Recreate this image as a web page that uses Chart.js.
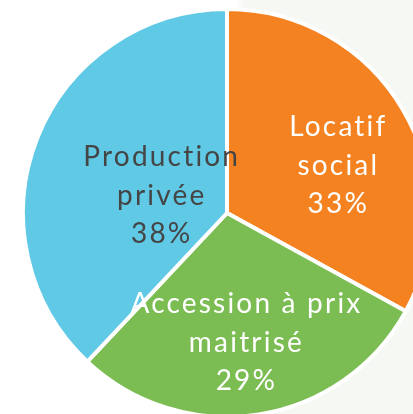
<!DOCTYPE html>
<html>
<head>
<meta charset="utf-8">
<script src="https://cdn.jsdelivr.net/npm/chart.js@4"></script>
<style>
  html, body { margin: 0; padding: 0; }
  body {
    width: 413px; height: 414px; overflow: hidden;
    background: linear-gradient(to right, #ffffff 0, #ffffff 235px, #f6f8f3 245px, #f6f8f3 100%);
    position: relative;
  }
  #wrap { position: absolute; left: 0; top: 0; width: 454px; height: 426px; }
</style>
</head>
<body>
<div id="wrap"><canvas id="myChart"></canvas></div>
<script>
const labels = [["Locatif", "social"], ["Accession à prix", "maitrisé"], ["Production", "privée"]];
const values = [33, 29, 38];
const colors = ["#f58220", "#7bbd52", "#5fc9e6"];
const textColors = ["#ffffff", "#ffffff", "#454545"];

// where each label sits: fraction of radius from the centre, plus pixel nudge
const labelPos = [
  { f: 0.6, dx: 6, dy: 15 },
  { f: 0.64, dx: -1, dy: 1 },
  { f: 0.36, dx: 3, dy: 10 },
];

const sliceLabels = {
  id: "sliceLabels",
  afterDatasetsDraw(chart) {
    const ctx = chart.ctx;
    const meta = chart.getDatasetMeta(0);
    ctx.save();
    ctx.font = "28px Lato";
    ctx.letterSpacing = "2.2px";
    ctx.textAlign = "center";
    ctx.textBaseline = "middle";
    meta.data.forEach((arc, i) => {
      const p = arc.getProps(["x", "y", "startAngle", "endAngle", "outerRadius"], true);
      const mid = (p.startAngle + p.endAngle) / 2;
      const r = p.outerRadius * labelPos[i].f;
      const cx = p.x + Math.cos(mid) * r + labelPos[i].dx;
      const cy = p.y + Math.sin(mid) * r + labelPos[i].dy;
      const lines = labels[i].concat([values[i] + "%"]);
      const lh = 38.5;
      ctx.fillStyle = textColors[i];
      lines.forEach((t, k) => {
        ctx.fillText(t, cx, cy + (k - (lines.length - 1) / 2) * lh);
      });
    });
    ctx.restore();
  },
};

new Chart("myChart", {
  type: "pie",
  data: {
    labels: labels.map(l => l.join(" ")),
    datasets: [
      {
        data: values,
        backgroundColor: colors,
        borderColor: "#ffffff",
        borderWidth: 4,
      },
    ],
  },
  options: {
    responsive: true,
    maintainAspectRatio: false,
    animation: false,
    layout: { padding: { top: 7, bottom: 7 } },
    plugins: {
      legend: { display: false },
      tooltip: { enabled: false },
    },
  },
  plugins: [sliceLabels],
});
</script>
</body>
</html>
